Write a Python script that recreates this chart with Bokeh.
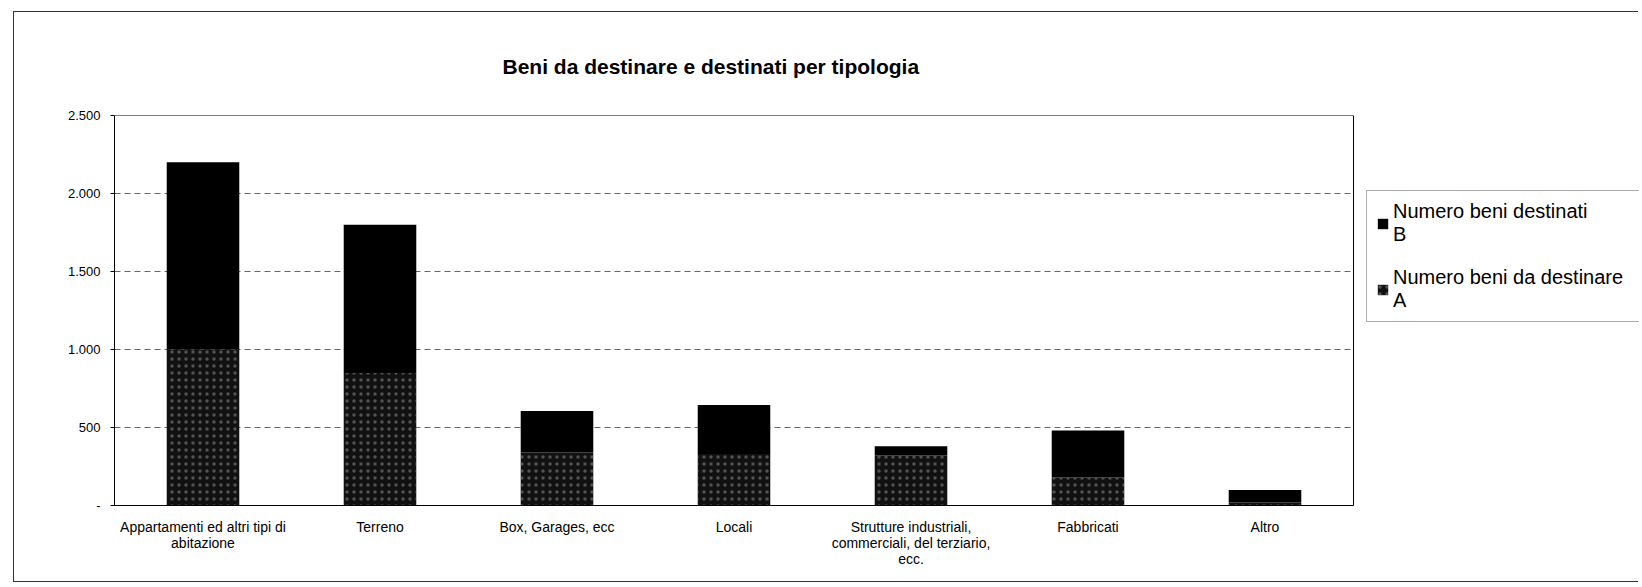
from bokeh.plotting import figure
from bokeh.models import Range1d, FixedTicker, Legend, LegendItem, BoxAnnotation
from bokeh.embed import file_html
from bokeh.resources import INLINE

categories = [
    "Appartamenti ed altri tipi di\nabitazione",
    "Terreno",
    "Box, Garages, ecc",
    "Locali",
    "Strutture industriali,\ncommerciali, del terziario,\necc.",
    "Fabbricati",
    "Altro",
]
da_destinare_A = [1000, 850, 340, 330, 320, 180, 20]
destinati_B = [1200, 950, 265, 315, 60, 300, 80]
y_ticks = [0, 500, 1000, 1500, 2000, 2500]
y_tick_labels = ["-", "500", "1.000", "1.500", "2.000", "2.500"]
series_names = ["Numero beni da destinare\nA", "Numero beni destinati\nB"]

n = len(categories)
xpos = list(range(n))
data = {"x": xpos, "A": da_destinare_A, "B": destinati_B}

FIG_W = 1625
BORDER_L = 100
FRAME_W = FIG_W - BORDER_L
PLOT_W = 1239
x_end = -0.5 + FRAME_W / (PLOT_W / n)

p = figure(
    x_range=Range1d(-0.5, x_end), y_range=Range1d(y_ticks[0], y_ticks[-1]),
    width=FIG_W, height=571,
    output_backend="svg", toolbar_location=None,
    min_border_left=BORDER_L, min_border_right=0,
    min_border_top=103, min_border_bottom=78,
    title="Beni da destinare e destinati per tipologia",
)
p.styles = {"border-left": "1px solid #333", "border-top": "1px solid #333",
            "border-bottom": "1px solid #333",
            "margin-left": "13px", "margin-top": "11px"}
p.outline_line_color = None
p.xgrid.grid_line_color = None
p.ygrid.grid_line_color = None

# dashed gridlines limited to the plot area
grid_y = y_ticks[1:-1]
p.segment(x0=[-0.5] * len(grid_y), x1=[n - 0.5] * len(grid_y), y0=grid_y, y1=grid_y,
          line_color="#666666", line_dash="6 4", line_width=1)

rs = p.vbar_stack(["A", "B"], x="x", width=0.41, source=data,
                  color=["#111111", "#000000"], line_color=None)
rs[0].glyph.hatch_pattern = "dot"
rs[0].glyph.hatch_color = "#cccccc"
rs[0].glyph.hatch_scale = 7
rs[0].glyph.hatch_weight = 0.8
rs[0].glyph.hatch_alpha = 0.35

# plot-area border
p.add_layout(BoxAnnotation(left=-0.5, right=n - 0.5, bottom=y_ticks[0], top=y_ticks[-1],
                           fill_alpha=0, line_color="#000000", line_alpha=1.0,
                           line_width=1))

p.title.text_font = "Liberation Sans"
p.title.text_font_size = "21px"
p.title.text_font_style = "bold"
p.title.text_color = "#000000"
p.title.align = "left"
p.title.offset = 388
p.title.standoff = 76

p.yaxis.ticker = FixedTicker(ticks=y_ticks)
p.yaxis.major_label_overrides = {t: l for t, l in zip(y_ticks, y_tick_labels)}
p.yaxis.major_label_text_font = "Liberation Sans"
p.yaxis.major_label_text_font_size = "13px"
p.yaxis.major_label_text_color = "#000000"
p.yaxis.axis_line_color = "#000000"
p.yaxis.major_tick_in = 0
p.yaxis.major_tick_out = 4
p.yaxis.minor_tick_line_color = None
p.yaxis.major_label_standoff = 10

p.xaxis.ticker = FixedTicker(ticks=xpos)
p.xaxis.major_label_overrides = {i: c for i, c in zip(xpos, categories)}
p.xaxis.bounds = (-0.5, n - 0.5)
p.xaxis.major_label_text_font = "Liberation Sans"
p.xaxis.major_label_text_font_size = "14px"
p.xaxis.major_label_text_line_height = 1.0
p.xaxis.major_label_text_color = "#000000"
p.xaxis.axis_line_color = "#000000"
p.xaxis.major_tick_line_color = None
p.xaxis.minor_tick_line_color = None
p.xaxis.major_label_standoff = 7

legend = Legend(
    items=[LegendItem(label=series_names[1], renderers=[rs[1]]),
           LegendItem(label=series_names[0], renderers=[rs[0]])],
    location=(1252, 183),
    label_text_font="Liberation Sans", label_text_font_size="20px",
    label_text_color="#000000", label_text_line_height=1.1,
    glyph_width=13, glyph_height=13,
    border_line_color="#555555", border_line_width=1,
    padding=9, spacing=20, margin=0, label_width=300, label_standoff=4,
    background_fill_color="#ffffff",
)
p.add_layout(legend, "center")

open("out.html", "w").write(file_html(p, INLINE))
